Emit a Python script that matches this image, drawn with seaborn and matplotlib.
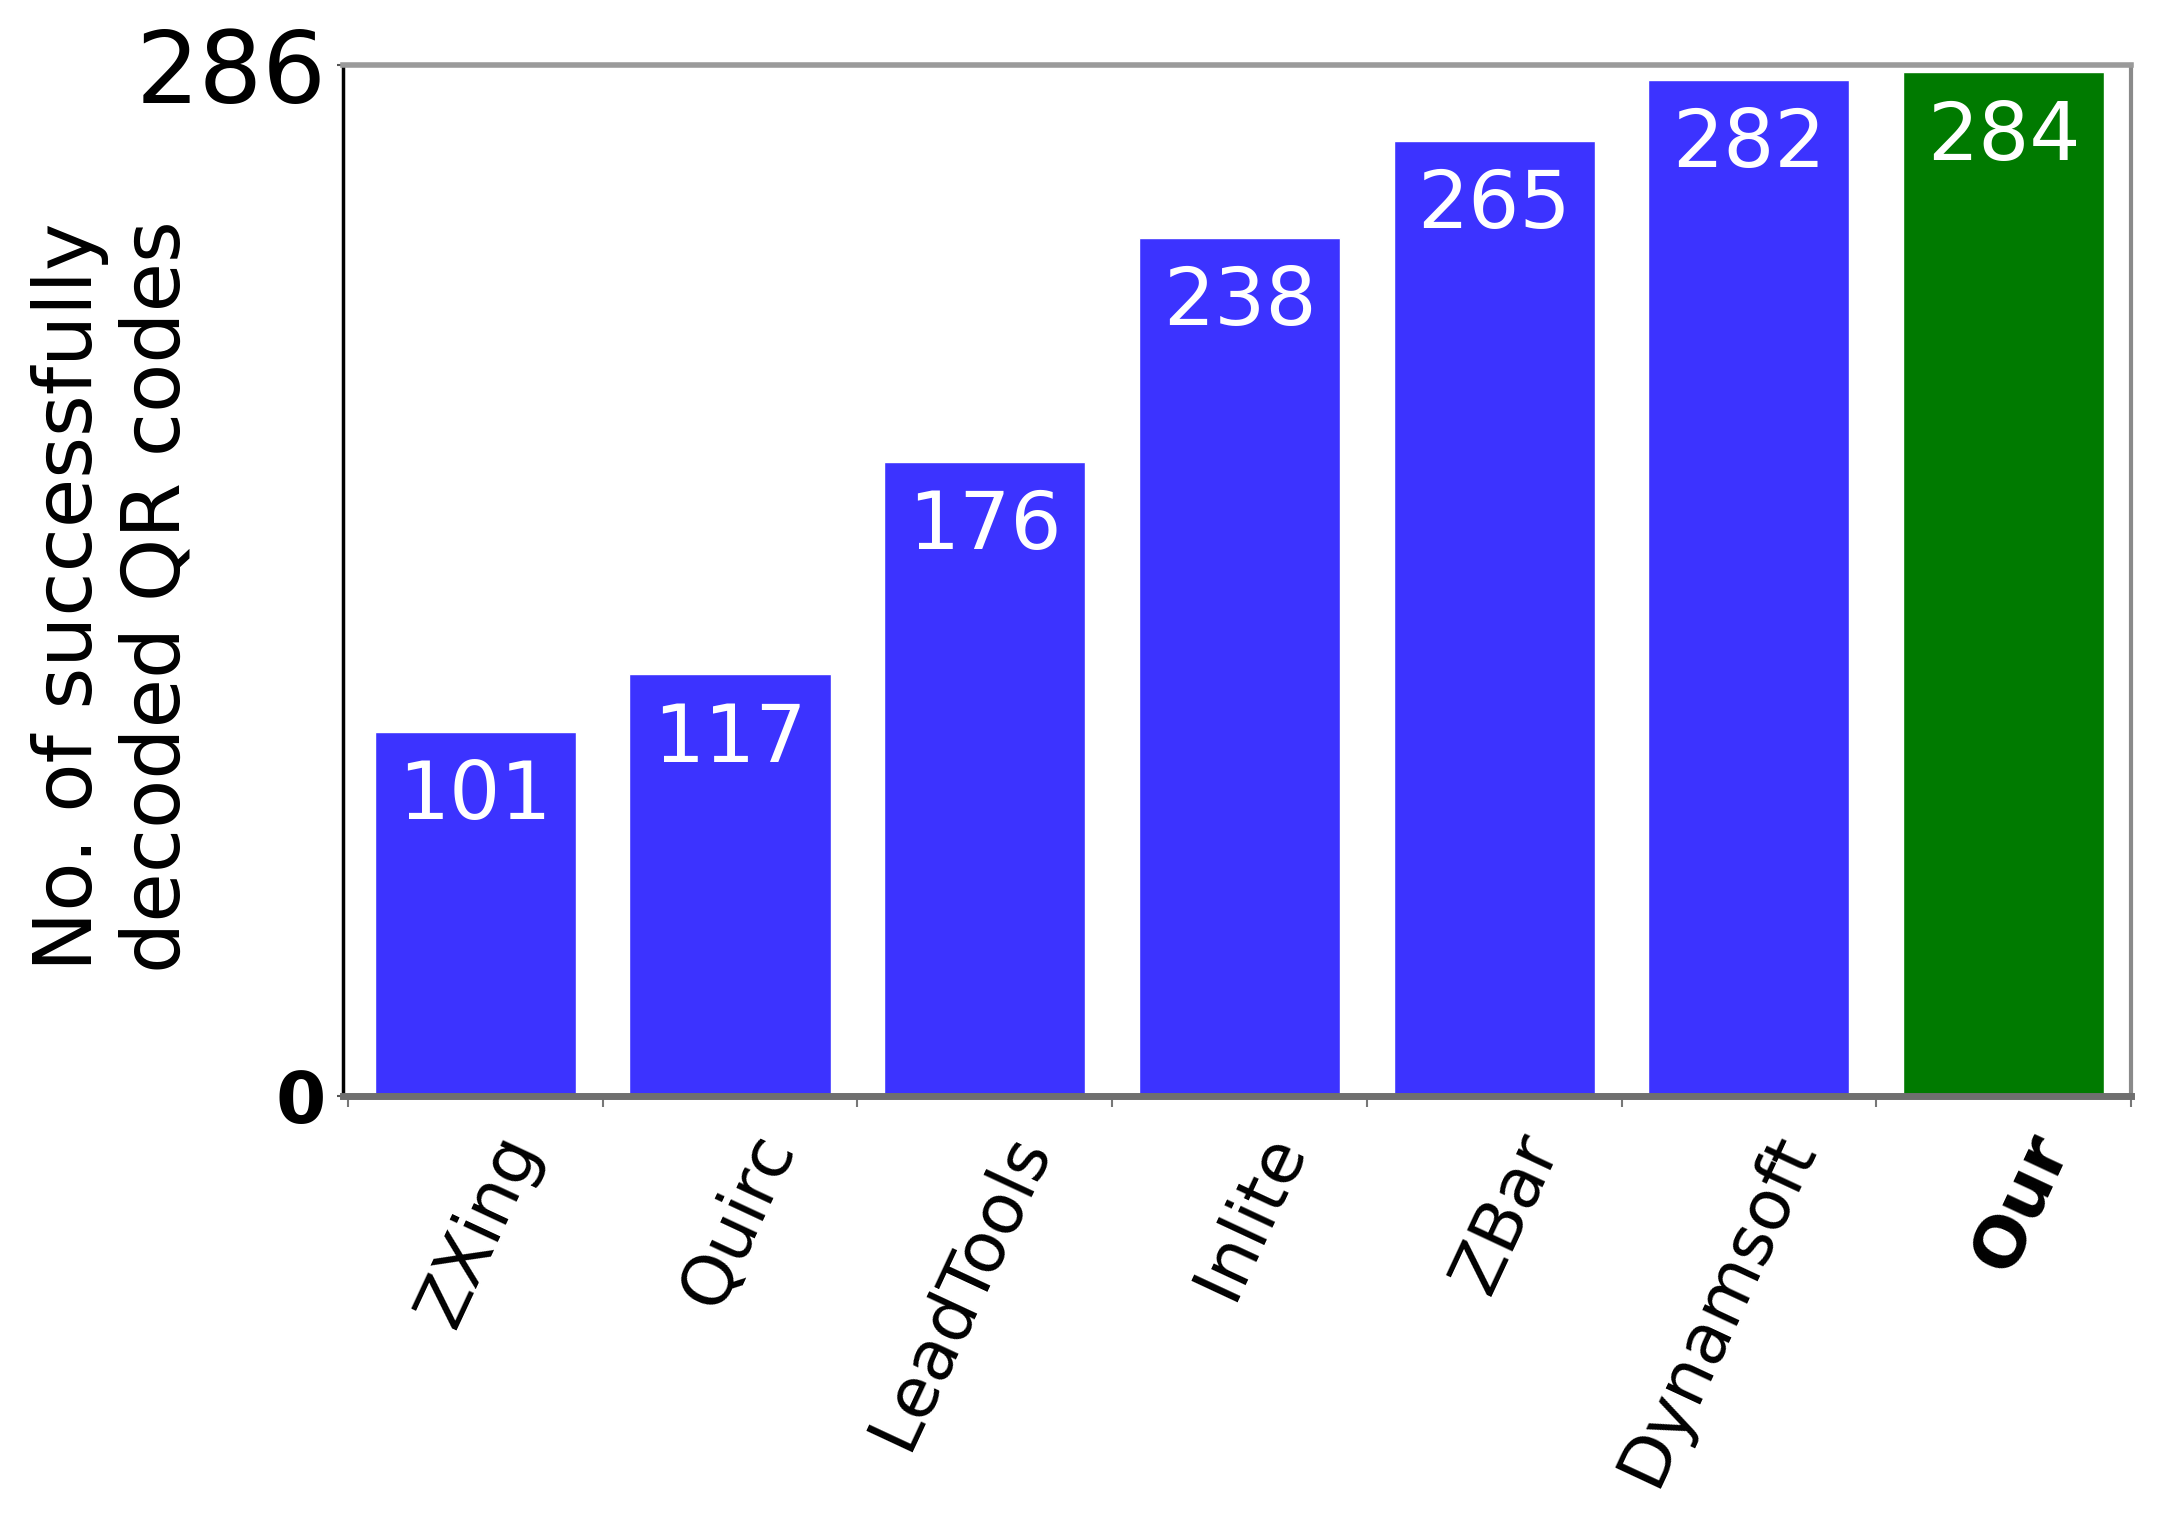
import matplotlib
matplotlib.use("Agg")
import matplotlib.pyplot as plt
import matplotlib.transforms as mtransforms
import seaborn as sns

# ── data ─────────────────────────────────────────────────────────────────────
decoders = ["ZXing", "Quirc", "LeadTools", "Inlite", "ZBar", "Dynamsoft", "Our"]
decoded = [101, 117, 176, 238, 265, 282, 284]
bar_colors = ["#3c33ff"] * 6 + ["#007a00"]
y_ticks = [0, 286]

sns.set_theme(style="white")
plt.rcParams["font.family"] = ["DejaVu Sans"]
plt.rcParams["text.color"] = "black"
plt.rcParams["axes.labelcolor"] = "black"
plt.rcParams["xtick.labelcolor"] = "black"
plt.rcParams["ytick.labelcolor"] = "black"

fig = plt.figure(figsize=(21.7, 15.16), dpi=100)
ax = fig.add_axes([0.158, 0.277, 0.824, 0.680])

sns.barplot(x=decoders, y=decoded, hue=decoders, palette=bar_colors,
            width=0.79, saturation=1, legend=False, ax=ax)

ax.set_xlim(-0.52, 6.49)
ax.set_ylim(0, 286)

# value labels inside the bar tops
for i, v in enumerate(decoded):
    ax.annotate(str(v), (i, v), xytext=(0, -47), textcoords="offset points",
                ha="center", va="center", color="white", fontsize=58)

# y axis: only 0 and 286
ax.set_yticks(y_ticks)
ax.set_yticklabels([str(t) for t in y_ticks])
ylabs = ax.get_yticklabels()
ylabs[0].set_fontsize(52)
ylabs[0].set_fontweight("bold")
ylabs[1].set_fontsize(72)
ax.tick_params(axis="y", length=4, width=1.5, color="#555555", pad=8, left=True)

ax.set_ylabel("No. of successfully\ndecoded QR codes", fontsize=58,
              linespacing=1.15)
ax.yaxis.set_label_coords(-0.082, 0.484)

# x axis: tick marks at bar boundaries, labels rotated under bars
ax.set_xticks(range(len(decoders)))
ax.set_xticklabels(decoders)
ax.tick_params(axis="x", which="major", length=0, pad=0)
ax.set_xticks([i + 0.5 for i in range(-1, len(decoders))], minor=True)
ax.tick_params(axis="x", which="minor", length=8, width=1.5, color="#777777",
               bottom=True)
offset = mtransforms.ScaledTranslation(34 / 72, -30 / 72, fig.dpi_scale_trans)
for lab in ax.get_xticklabels():
    lab.set_rotation(65)
    lab.set_rotation_mode("anchor")
    lab.set_ha("right")
    lab.set_va("center")
    lab.set_fontsize(50)
    lab.set_transform(lab.get_transform() + offset)
ax.get_xticklabels()[-1].set_fontweight("bold")
ax.set_xlabel("")

# spines
ax.spines["left"].set_color("black")
ax.spines["left"].set_linewidth(2.5)
ax.spines["bottom"].set_color("#6f6f6f")
ax.spines["bottom"].set_linewidth(5)
ax.spines["top"].set_color("#9a9a9a")
ax.spines["top"].set_linewidth(4)
ax.spines["right"].set_color("#8a8a8a")
ax.spines["right"].set_linewidth(3)
ax.spines["bottom"].set_zorder(5)

fig.savefig("out.png", dpi=100)
